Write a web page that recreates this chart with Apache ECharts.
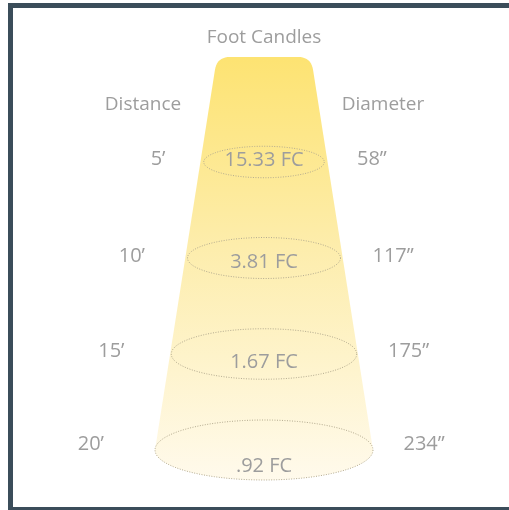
<!DOCTYPE html>
<html><head><meta charset="utf-8">
<script src="https://cdn.jsdelivr.net/npm/echarts@6/dist/echarts.min.js"></script>
<style>html,body{margin:0;padding:0;background:#fff}#c{width:509px;height:510px}</style>
</head><body><div id="c"></div>
<script>
// ---- data ----
const distances = [5, 10, 15, 20];
const distanceLabels = ['5’', '10’', '15’', '20’'];
const diameters = [58, 117, 175, 234];
const diameterLabels = ['58”', '117”', '175”', '234”'];
const footCandles = [15.33, 3.81, 1.67, 0.92];
const fcLabels = ['15.33 FC', '3.81 FC', '1.67 FC', '.92 FC'];
const headers = ['Foot Candles', 'Distance', 'Diameter'];

// ---- layout (not data) ----
const TEXT = '#9d9d9d';
const FONT = '"Open Sans", sans-serif';
const FS = 20;      // value labels
const FS_H = 19;    // headers
const rxOf = d => 44 + 3.25 * d;      // half width in x-units
const ryOf = d => 11 + 0.95 * d;      // half height in px
const leftOff = d => 78 + 4.1 * d;    // right edge of distance label from axis
const rightOff = d => 77.5 + 3.1 * d; // left edge of diameter label from axis
const labelDy = [-3, -2, -3, -6];
const fcDy = [-2, 4, 8, 16];
const CONE_TOP_D = -0.47, CONE_TOP_HW = 47, CORNER = 13;

const chart = echarts.init(document.getElementById('c'), null, {renderer: 'canvas'});

function ellipsePts(cx, cy, rx, ry, a0, a1, n) {
  const pts = [];
  for (let i = 0; i <= n; i++) {
    const a = a0 + (a1 - a0) * i / n;
    pts.push([cx + rx * Math.cos(a), cy + ry * Math.sin(a)]);
  }
  return pts;
}

function coneItem(params, api) {
  const dBot = distances[distances.length - 1];
  const hwBot = rxOf(dBot);
  const P0 = api.coord([-hwBot, dBot]);
  const TL = api.coord([-CONE_TOP_HW, CONE_TOP_D]);
  const TR = api.coord([CONE_TOP_HW, CONE_TOP_D]);
  const P3 = api.coord([hwBot, dBot]);
  const C = api.coord([0, dBot]);
  const rxPx = P3[0] - C[0];
  const pts = [];
  function corner(A, T, B) {
    const la = Math.hypot(A[0] - T[0], A[1] - T[1]);
    const lb = Math.hypot(B[0] - T[0], B[1] - T[1]);
    const s = [T[0] + (A[0] - T[0]) * CORNER / la, T[1] + (A[1] - T[1]) * CORNER / la];
    const e = [T[0] + (B[0] - T[0]) * CORNER / lb, T[1] + (B[1] - T[1]) * CORNER / lb];
    for (let i = 0; i <= 10; i++) {
      const t = i / 10;
      pts.push([
        (1 - t) * (1 - t) * s[0] + 2 * (1 - t) * t * T[0] + t * t * e[0],
        (1 - t) * (1 - t) * s[1] + 2 * (1 - t) * t * T[1] + t * t * e[1]
      ]);
    }
  }
  pts.push(P0);
  corner(P0, TL, TR);
  corner(TL, TR, P3);
  pts.push(P3);
  ellipsePts(C[0], C[1], rxPx, ryOf(dBot), 0, Math.PI, 80).forEach(p => pts.push(p));
  return {
    type: 'polygon',
    shape: {points: pts},
    style: {
      fill: new echarts.graphic.LinearGradient(0, 0, 0, 1, [
        {offset: 0, color: '#fde372'},
        {offset: 0.45, color: '#fdedac'},
        {offset: 1, color: '#fffaec'}
      ])
    }
  };
}

function ringItem(params, api) {
  const i = params.dataIndex;
  const d = api.value(0);
  const c = api.coord([0, d]);
  const e = api.coord([rxOf(d), d]);
  const rx = e[0] - c[0], ry = ryOf(d);
  const txt = (t, x, y, align) => ({
    type: 'text',
    style: {text: t, x: x, y: y, align: align, verticalAlign: 'middle',
      fill: TEXT, font: FS + 'px ' + FONT}
  });
  return {
    type: 'group',
    children: [
      {
        type: 'polygon',
        shape: {points: ellipsePts(c[0], c[1], rx, ry, 0, Math.PI * 2, 160)},
        style: {fill: 'none', stroke: '#b3aa8f', lineWidth: 1, lineDash: [1, 1.5]}
      },
      txt(fcLabels[i], c[0], c[1] + fcDy[i], 'center'),
      txt(distanceLabels[i], api.coord([-leftOff(d), d])[0], c[1] + labelDy[i], 'right'),
      txt(diameterLabels[i], api.coord([rightOff(d), d])[0], c[1] + labelDy[i], 'left')
    ]
  };
}

chart.setOption({
  animation: false,
  grid: {left: 0, right: 0, top: 0, bottom: 0},
  xAxis: {type: 'value', min: -264, max: 245, show: false},
  yAxis: {type: 'value', min: -3.4375, max: 23.125, inverse: true, show: false},
  graphic: [
    {type: 'rect', shape: {x: 8, y: 3, width: 501, height: 5}, style: {fill: '#3b4d5a'}},
    {type: 'rect', shape: {x: 8, y: 3, width: 5, height: 507}, style: {fill: '#3b4d5a'}},
    {type: 'rect', shape: {x: 8, y: 507, width: 501, height: 3}, style: {fill: '#3b4d5a'}},
    {type: 'text', x: 264, y: 38, style: {text: headers[0], align: 'center', verticalAlign: 'middle', fill: TEXT, font: FS_H + 'px ' + FONT}},
    {type: 'text', x: 143, y: 105, style: {text: headers[1], align: 'center', verticalAlign: 'middle', fill: TEXT, font: FS_H + 'px ' + FONT}},
    {type: 'text', x: 383, y: 105, style: {text: headers[2], align: 'center', verticalAlign: 'middle', fill: TEXT, font: FS_H + 'px ' + FONT}}
  ],
  series: [
    {type: 'custom', renderItem: coneItem, data: [[0]], silent: true, z: 1},
    {type: 'custom', renderItem: ringItem,
      data: distances.map((d, i) => [d, diameters[i], footCandles[i]]), silent: true, z: 2}
  ]
});
</script>
</body></html>
